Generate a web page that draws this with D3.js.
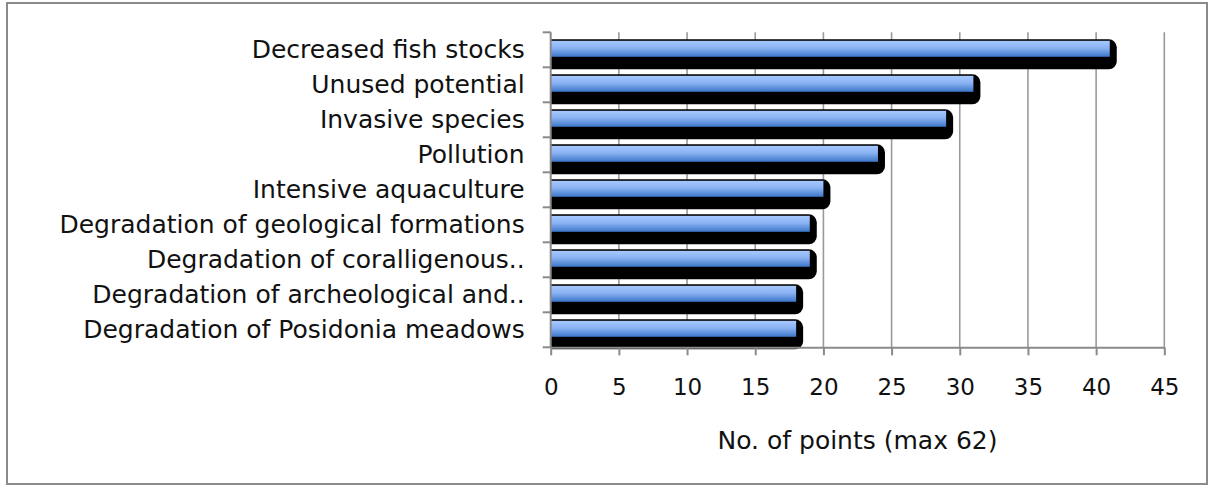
<!DOCTYPE html>
<html>
<head>
<meta charset="utf-8">
<script src="https://cdn.jsdelivr.net/npm/d3@7"></script>
<style>
  body { margin: 0; background: #fff; }
  svg { display: block; font-family: "Century Gothic", "DejaVu Sans", sans-serif; }
</style>
</head>
<body>
<svg></svg>
<script>
"use strict";

const categories = [
  "Decreased fish stocks",
  "Unused potential",
  "Invasive species",
  "Pollution",
  "Intensive aquaculture",
  "Degradation of geological formations",
  "Degradation of coralligenous..",
  "Degradation of archeological and..",
  "Degradation of Posidonia meadows"
];
const points = [41, 31, 29, 24, 20, 19, 19, 18, 18];
const xTicks = [0, 5, 10, 15, 20, 25, 30, 35, 40, 45];
const xTitle = "No. of points (max 62)";

const width = 1213;
const height = 488;
const plotLeft = 550.7;
const plotRight = 1164.3;
const plotTop = 32.3;
const plotBottom = 347.3;

const svg = d3.select("svg").attr("width", width).attr("height", height);

const defs = svg.append("defs");
const grad = defs.append("linearGradient")
  .attr("id", "barFill").attr("x1", 0).attr("y1", 0).attr("x2", 0).attr("y2", 1);
grad.append("stop").attr("offset", "0%").attr("stop-color", "#a6c8ff");
grad.append("stop").attr("offset", "45%").attr("stop-color", "#8ab2f2");
grad.append("stop").attr("offset", "100%").attr("stop-color", "#3b76c9");

defs.append("clipPath").attr("id", "plotClip")
  .append("rect").attr("x", plotLeft).attr("y", 0).attr("width", width - plotLeft).attr("height", height);

// outer frame
svg.append("rect")
  .attr("x", 7).attr("y", 3).attr("width", 1200).attr("height", 481)
  .attr("fill", "none").attr("stroke", "#8a8a8a").attr("stroke-width", 2);

const x = d3.scaleLinear().domain([0, 45]).range([plotLeft, plotRight]);
const y = d3.scaleBand().domain(categories).range([plotTop, plotBottom]);

// gridlines
svg.append("g")
  .selectAll("line")
  .data(xTicks.slice(1))
  .enter()
  .append("line")
  .attr("x1", (d) => x(d)).attr("x2", (d) => x(d))
  .attr("y1", plotTop).attr("y2", plotBottom)
  .attr("stroke", "#9a9a9a").attr("stroke-width", 1.6);

// bars: black rounded shadow + gradient bar
const bars = svg.append("g").attr("clip-path", "url(#plotClip)");
bars.selectAll("rect.shadow")
  .data(points)
  .enter()
  .append("rect")
  .attr("class", "shadow")
  .attr("x", x(0) - 12)
  .attr("y", (d, i) => y(categories[i]) + 7)
  .attr("width", (d) => x(d) - x(0) + 19)
  .attr("height", 30)
  .attr("rx", 8).attr("ry", 8)
  .attr("fill", "#000");
bars.selectAll("rect.bar")
  .data(points)
  .enter()
  .append("rect")
  .attr("class", "bar")
  .attr("x", x(0))
  .attr("y", (d, i) => y(categories[i]) + 8.5)
  .attr("width", (d) => x(d) - x(0))
  .attr("height", 16)
  .attr("fill", "url(#barFill)");

// y axis
const yAxis = svg.append("g")
  .attr("transform", `translate(${plotLeft},0)`)
  .call(d3.axisLeft(y).tickSize(0).tickPadding(26));
yAxis.select(".domain").remove();
yAxis.attr("font-family", null).attr("font-size", null);
yAxis.selectAll("text").attr("font-size", 25).attr("fill", "#111");

svg.append("g")
  .selectAll("line")
  .data(categories.map((c) => y(c)).concat([plotBottom]))
  .enter()
  .append("line")
  .attr("x1", plotLeft - 8).attr("x2", plotLeft)
  .attr("y1", (d) => d).attr("y2", (d) => d)
  .attr("stroke", "#8a8a8a").attr("stroke-width", 2);
svg.append("line")
  .attr("x1", plotLeft).attr("x2", plotLeft).attr("y1", plotTop).attr("y2", plotBottom)
  .attr("stroke", "#8a8a8a").attr("stroke-width", 2);

// x axis
const xAxis = svg.append("g")
  .attr("transform", `translate(0,${plotBottom})`)
  .call(d3.axisBottom(x).tickValues(xTicks).tickSize(8).tickSizeOuter(0).tickPadding(23));
xAxis.attr("font-family", null).attr("font-size", null);
xAxis.select(".domain").attr("stroke", "#8a8a8a").attr("stroke-width", 2);
xAxis.selectAll(".tick line").attr("stroke", "#8a8a8a").attr("stroke-width", 2);
xAxis.selectAll("text").attr("font-size", 23).attr("fill", "#111");

svg.append("text")
  .attr("x", (plotLeft + plotRight) / 2)
  .attr("y", 449)
  .attr("text-anchor", "middle")
  .attr("font-size", 25)
  .attr("fill", "#111")
  .text(xTitle);
</script>
</body>
</html>
